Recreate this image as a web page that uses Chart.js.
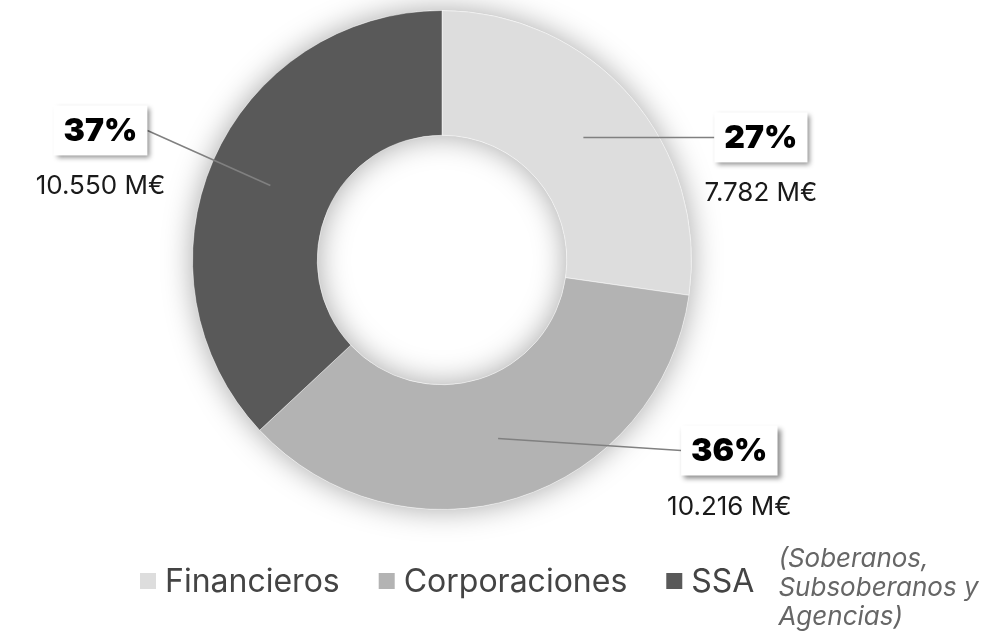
<!DOCTYPE html>
<html>
<head>
<script src="https://cdn.jsdelivr.net/npm/chart.js@4.4.1/dist/chart.umd.min.js"></script>
<title>Cartera por sector</title>
<style>
  html, body { margin: 0; padding: 0; background: #fff; }
  #wrap { width: 1005px; height: 632px; }
</style>
</head>
<body>
<div id="wrap"><canvas id="myChart" width="1005" height="632"></canvas></div>
<script>
// data (millones de euros)
var sectors = ['Financieros', 'Corporaciones', 'SSA'];
var amounts = [7782, 10216, 10550];
var sectorColors = ['#dddddd', '#b3b3b3', '#595959'];
var ssaNote = ['(Soberanos,', 'Subsoberanos y', 'Agencias)'];

// where each callout box sits, relative to the anchor point inside its slice
var calloutOffsets = [
    { dx: 131, dy: 0, side: 'left' },
    { dx: 183, dy: 12, side: 'left' },
    { dx: -123, dy: -55, side: 'right' }
];

function fmtMillions(v) {
    return String(v).replace(/\B(?=(\d{3})+(?!\d))/g, '.') + ' M€';
}

var total = amounts.reduce(function (a, b) { return a + b; }, 0);

// soft shadow behind the whole ring
var ringShadow = {
    id: 'ringShadow',
    beforeDatasetsDraw: function (chart) {
        var arc = chart.getDatasetMeta(0).data[0];
        if (!arc) return;
        var ctx = chart.ctx;
        ctx.save();
        ctx.beginPath();
        ctx.arc(arc.x, arc.y, arc.outerRadius, 0, Math.PI * 2);
        ctx.arc(arc.x, arc.y, arc.innerRadius, Math.PI * 2, 0, true);
        ctx.closePath();
        ctx.shadowColor = 'rgba(0,0,0,0.35)';
        ctx.shadowBlur = 30;
        ctx.fillStyle = '#ffffff';
        ctx.fill();
        ctx.restore();
    }
};

// leader lines + percent boxes + amounts
var callouts = {
    id: 'callouts',
    afterDatasetsDraw: function (chart) {
        var ctx = chart.ctx;
        var arcs = chart.getDatasetMeta(0).data;
        arcs.forEach(function (arc, i) {
            var mid = (arc.startAngle + arc.endAngle) / 2;
            var r = (arc.innerRadius + arc.outerRadius) / 2;
            var ax = arc.x + Math.cos(mid) * r;
            var ay = arc.y + Math.sin(mid) * r;
            var off = calloutOffsets[i];
            var ex = ax + off.dx, ey = ay + off.dy;

            ctx.save();
            ctx.strokeStyle = '#808080';
            ctx.lineWidth = 1.5;
            ctx.beginPath();
            ctx.moveTo(ax, ay);
            ctx.lineTo(ex, ey);
            ctx.stroke();
            ctx.restore();

            var pct = Math.round(amounts[i] / total * 100) + '%';
            ctx.save();
            ctx.font = '900 32px Inter, "DejaVu Sans", sans-serif';
            var tw = ctx.measureText(pct).width;
            var bw = tw + 20, bh = 50;
            var bx = off.side === 'left' ? ex : ex - bw;
            var by = ey - 25;
            ctx.shadowColor = 'rgba(0,0,0,0.45)';
            ctx.shadowBlur = 5;
            ctx.shadowOffsetX = 3;
            ctx.shadowOffsetY = 3;
            ctx.fillStyle = '#ffffff';
            ctx.fillRect(bx, by, bw, bh);
            ctx.shadowColor = 'transparent';
            ctx.fillStyle = '#000000';
            ctx.textAlign = 'center';
            ctx.textBaseline = 'middle';
            ctx.fillText(pct, bx + bw / 2, by + bh / 2 + 1);

            ctx.font = '26px Inter, Roboto, sans-serif';
            ctx.fillStyle = '#1a1a1a';
            ctx.textBaseline = 'alphabetic';
            ctx.fillText(fmtMillions(amounts[i]), bx + bw / 2, by + bh + 39);
            ctx.restore();
        });
    }
};

// legend along the bottom, with the SSA note
var bottomLegend = {
    id: 'bottomLegend',
    afterDraw: function (chart) {
        var ctx = chart.ctx;
        var base = 592;
        var x = 140;
        ctx.save();
        ctx.font = '32px Inter, Roboto, sans-serif';
        ctx.textBaseline = 'alphabetic';
        ctx.textAlign = 'left';
        sectors.forEach(function (name, i) {
            ctx.fillStyle = sectorColors[i];
            ctx.fillRect(x, base - 19, 16, 16);
            x += 25;
            ctx.fillStyle = '#444444';
            ctx.fillText(name, x, base);
            x += ctx.measureText(name).width + 39;
        });
        x -= 39;
        ctx.font = 'italic 26px Inter, Roboto, sans-serif';
        ctx.fillStyle = '#666666';
        ssaNote.forEach(function (line, k) {
            ctx.fillText(line, x + 24, 567 + k * 29);
        });
        ctx.restore();
    }
};

var ctx = document.getElementById('myChart').getContext('2d');
var myChart = new Chart(ctx, {
    type: 'doughnut',
    data: {
        labels: sectors,
        datasets: [{
            data: amounts,
            backgroundColor: sectorColors,
            borderColor: 'rgba(255,255,255,0.45)',
            borderWidth: 1
        }]
    },
    options: {
        responsive: false,
        animation: false,
        cutout: '50%',
        layout: {
            padding: { top: 10, bottom: 122, left: 0, right: 121 }
        },
        plugins: {
            legend: { display: false },
            tooltip: { enabled: false }
        }
    },
    plugins: [ringShadow, callouts, bottomLegend]
});
</script>
</body>
</html>
